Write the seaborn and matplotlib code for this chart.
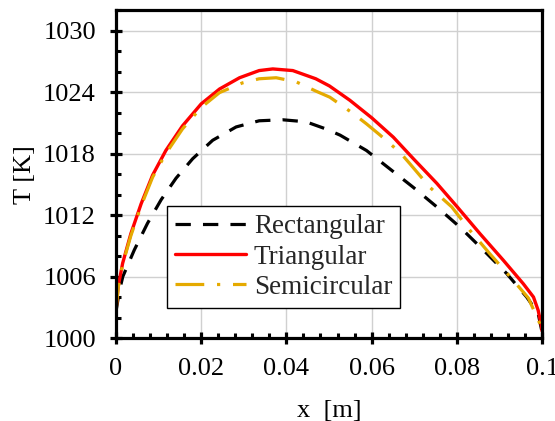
import numpy as np
import pandas as pd
import matplotlib
matplotlib.use('Agg')
import matplotlib.pyplot as plt
from matplotlib.ticker import MultipleLocator, FormatStrFormatter
import seaborn as sns

# Temperature profiles
x_tri = [0, 0.0005, 0.00156, 0.0035, 0.0059, 0.0086, 0.0117, 0.0156, 0.02, 0.0243,
         0.029, 0.0336, 0.0368, 0.0415, 0.0469, 0.0501, 0.0549, 0.06, 0.0651,
         0.0698, 0.0753, 0.0801, 0.0854, 0.0909, 0.0956, 0.098, 0.0991, 0.0999, 0.1]
T_tri = [1002.7, 1005.0, 1007.3, 1010.2, 1013.1, 1015.9, 1018.3, 1020.7, 1022.85, 1024.3,
         1025.4, 1026.1, 1026.26, 1026.1, 1025.3, 1024.6, 1023.2, 1021.5, 1019.6,
         1017.5, 1015.1, 1012.8, 1010.2, 1007.6, 1005.3, 1004.0, 1002.7, 1001.1, 1000.7]

x_semi = [0, 0.0005, 0.00156, 0.0035, 0.0059, 0.0086, 0.0117, 0.0156, 0.02, 0.0243,
          0.0297, 0.0336, 0.0376, 0.0423, 0.0469, 0.0502, 0.0557, 0.0588, 0.062,
          0.0667, 0.069, 0.0737, 0.0788, 0.0831, 0.0878, 0.0925, 0.0968, 0.0995, 0.1]
T_semi = [1002.6, 1004.9, 1007.2, 1010.0, 1012.9, 1015.7, 1018.0, 1020.4, 1022.5, 1023.95,
          1024.9, 1025.3, 1025.4, 1025.0, 1024.1, 1023.5, 1021.9, 1020.9, 1019.8,
          1018.1, 1017.0, 1014.7, 1012.8, 1010.5, 1008.2, 1006.0, 1003.9, 1001.4, 1000.6]

x_rect = [0, 0.0008, 0.0016, 0.0043, 0.0074, 0.0106, 0.0141, 0.018, 0.0227, 0.0282,
          0.0336, 0.0391, 0.0446, 0.0493, 0.0526, 0.0588, 0.0643, 0.0698, 0.0753,
          0.0808, 0.0862, 0.0917, 0.0964, 0.0991, 0.1]
T_rect = [1002.6, 1004.6, 1006.0, 1008.6, 1011.2, 1013.5, 1015.6, 1017.5, 1019.3, 1020.6,
          1021.2, 1021.3, 1021.1, 1020.4, 1019.8, 1018.3, 1016.5, 1014.7, 1012.8,
          1010.8, 1008.6, 1006.3, 1004.0, 1002.4, 1000.6]

sns.set_theme(style='white')
plt.rcParams['font.family'] = ['Liberation Serif', 'DejaVu Serif']

fig, ax = plt.subplots(figsize=(5.55, 4.21), dpi=100)
fig.subplots_adjust(left=0.209, right=0.9766, top=0.976, bottom=0.197)

df_rect = pd.DataFrame({'x': x_rect, 'T': T_rect})
df_tri = pd.DataFrame({'x': x_tri, 'T': T_tri})
df_semi = pd.DataFrame({'x': x_semi, 'T': T_semi})

sns.lineplot(data=df_rect, x='x', y='T', ax=ax, color='black', lw=2.3,
             linestyle=(0, (4.8, 3.8)), label='Rectangular', zorder=3,
             dash_joinstyle='round')
sns.lineplot(data=df_tri, x='x', y='T', ax=ax, color='#FF0000', lw=2.4,
             label='Triangular', zorder=4, solid_joinstyle='round')
sns.lineplot(data=df_semi, x='x', y='T', ax=ax, color='#E5AA00', lw=2.3,
             linestyle=(0, (9, 4, 1, 4)), label='Semicircular', zorder=5,
             dash_joinstyle='round')

ax.set_xlim(0, 0.1)
ax.set_ylim(1000, 1032)
ax.xaxis.set_major_locator(MultipleLocator(0.02))
ax.xaxis.set_minor_locator(MultipleLocator(0.004))
ax.yaxis.set_minor_locator(MultipleLocator(2))
ax.xaxis.set_major_formatter(FormatStrFormatter('%g'))
ax.set_yticks([1000, 1006, 1012, 1018, 1024, 1030])

ax.grid(True, which='major', color='#D0D0D0', lw=1.0)
ax.set_axisbelow(True)

for sp in ax.spines.values():
    sp.set_color('black')
    sp.set_linewidth(2.3)
    sp.set_zorder(6)

ax.tick_params(which='major', direction='inout', length=9, width=2.3,
               color='black', labelsize=19, pad=10, left=True, bottom=True)
ax.tick_params(which='minor', direction='in', length=3.5, width=2.2,
               color='black', left=True, bottom=True)
for lab in ax.get_xticklabels() + ax.get_yticklabels():
    lab.set_color('black')

ax.set_xlabel('x  [m]', fontsize=19, color='black', labelpad=14)
ax.set_ylabel('T [K]', fontsize=19, color='black', labelpad=5)

leg = ax.legend(loc='lower left', bbox_to_anchor=(0.12, 0.0915), fontsize=19.5,
                frameon=True, fancybox=False, framealpha=1, edgecolor='black',
                handlelength=2.6, handletextpad=0.3, labelspacing=0.2,
                borderpad=0.3, borderaxespad=0)
leg.get_frame().set_linewidth(1.0)
leg.set_zorder(7)

fig.savefig('out.png', dpi=100)
